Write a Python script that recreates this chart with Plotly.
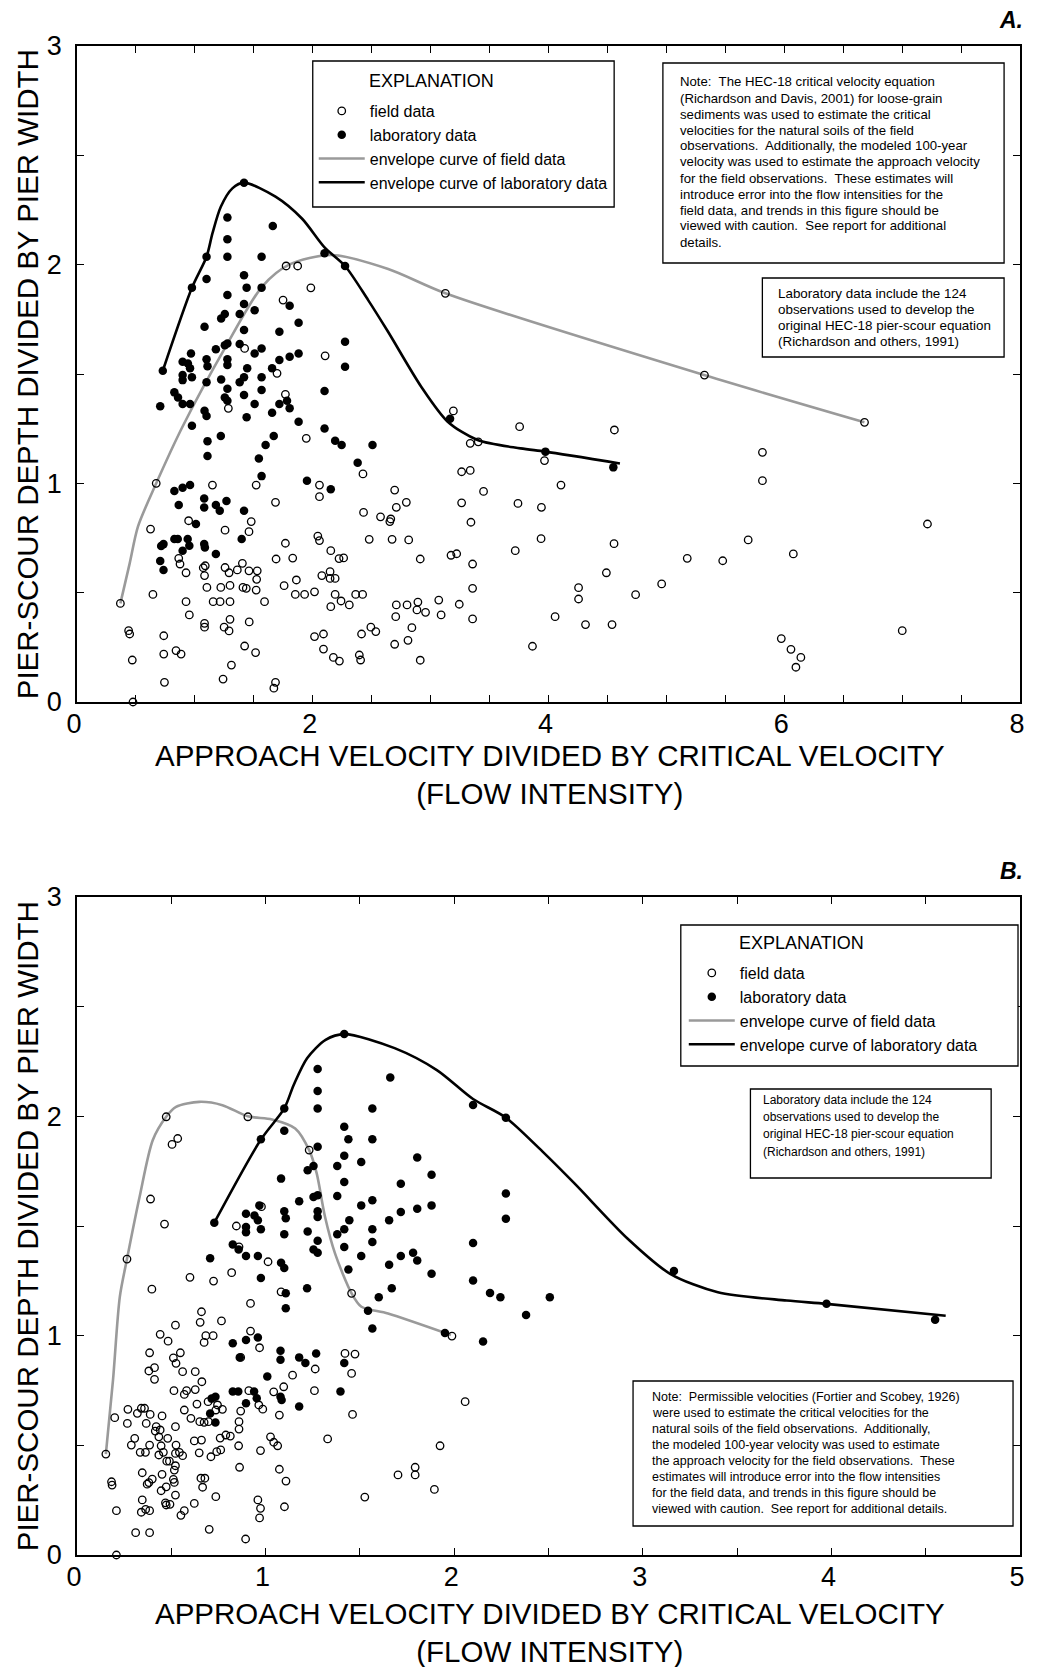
import plotly.graph_objects as go

# ---------------- data ----------------
# Laboratory data (same in both panels)
lab_x = [1.417,1.276,1.661,1.276,1.099,1.276,1.566,2.10,2.274,1.099,0.975,1.417,1.439,1.566,1.276,1.417,1.507,1.804,1.254,1.223,
         1.380,1.880,1.082,1.417,1.717,2.274,1.276,1.254,1.178,1.380,1.566,1.507,1.880,1.804,1.717,0.967,0.896,0.941,1.099,1.276,
         1.276,1.107,0.959,0.728,0.896,0.975,0.896,1.444,1.655,1.566,1.223,1.099,1.417,1.380,1.276,1.566,2.10,0.826,0.857,0.896,
         0.959,0.706,1.254,1.276,1.417,1.507,1.717,1.782,1.804,1.655,1.082,1.099,1.439,1.880,0.975,2.10,2.274,
         1.220,1.107,1.107,1.669,1.600,1.543,1.566,2.190,2.245,2.507,2.381,1.951,2.153,0.826,0.896,0.959,0.863,1.079,1.079,1.178,
         1.211,1.268,1.417,1.009,0.826,0.855,0.939,0.714,0.734,0.896,0.953,1.079,1.085,1.178,1.397,0.706,0.734,
         3.165,3.974,4.55]
lab_y = [2.375,2.216,2.177,2.116,2.036,2.036,2.036,2.052,1.994,1.934,1.895,1.952,1.895,1.895,1.861,1.820,1.792,1.812,1.774,1.754,
         1.774,1.734,1.716,1.701,1.693,1.648,1.640,1.632,1.613,1.637,1.617,1.594,1.594,1.579,1.564,1.594,1.556,1.548,1.567,1.567,
         1.541,1.535,1.526,1.515,1.495,1.485,1.472,1.526,1.526,1.485,1.475,1.462,1.485,1.462,1.433,1.427,1.422,1.416,1.393,1.363,
         1.363,1.353,1.393,1.378,1.404,1.363,1.363,1.378,1.343,1.323,1.332,1.308,1.302,1.282,1.263,1.251,1.533,
         1.216,1.193,1.125,1.216,1.175,1.114,1.033,1.195,1.175,1.175,1.094,1.012,0.973,0.965,0.980,0.992,0.901,0.931,0.890,0.901,
         0.875,0.919,0.875,0.814,0.745,0.745,0.745,0.713,0.722,0.692,0.715,0.722,0.707,0.677,0.745,0.645,0.604,
         1.295,1.145,1.073]

# Field data, panel A (HEC-18 critical velocity)
fieldA_x = [1.774,1.872,1.984,1.748,1.422,2.105,1.697,1.768,1.284,
            1.945,2.426,0.672,1.149,1.520,2.057,2.057,1.684,2.695,2.709,2.431,2.575,2.662,2.654,0.947,1.478,0.624,1.256,1.459,2.043,
            2.057,2.479,2.673,1.768,2.153,1.830,1.689,2.223,2.262,0.863,0.874,0.925,1.071,1.088,1.082,1.256,1.290,1.360,1.403,1.459,
            1.529,1.524,1.102,1.220,1.298,1.408,1.436,1.520,2.147,2.077,2.147,2.190,1.861,1.757,1.852,1.931,2.015,2.190,2.364,2.423,
            2.240,2.310,2.153,2.709,2.704,2.695,0.644,0.925,1.155,1.214,1.298,1.591,0.953,0.368,0.438,0.447,0.736,1.082,1.082,1.248,
            1.290,1.298,1.461,2.015,2.091,2.091,2.175,2.226,2.414,2.493,2.535,2.395,2.406,0.840,0.883,0.736,0.469,1.422,1.515,1.310,
            0.742,1.239,1.684,1.670,0.475,
            3.125,5.323,3.193,3.755,4.559,
            3.336,3.404,3.966,3.263,3.336,4.106,3.449,2.794,3.263,3.741,3.940,3.342,2.814,3.937,4.556,3.718,3.173,3.221,2.912,3.356,
            4.491,4.960,4.255,4.255,4.739,3.356,3.069,3.243,2.892,2.800,2.884,2.957,3.089,3.356,4.056,4.314,4.539,2.841,2.808,3.864,
            2.912,
            6.681,5.815,5.815,7.215,5.694,5.177,5.478,6.077,5.975,6.057,6.141,6.099,7.001]
fieldA_y = [1.994,1.994,1.894,1.838,1.617,1.583,1.503,1.407,1.343,
            1.206,1.043,1.000,0.992,0.992,0.992,0.939,0.913,0.969,0.890,0.867,0.847,0.837,0.825,0.829,0.825,0.791,0.786,0.779,0.759,
            0.738,0.744,0.744,0.726,0.692,0.658,0.654,0.656,0.659,0.657,0.631,0.591,0.614,0.623,0.578,0.615,0.591,0.604,0.634,0.600,
            0.600,0.561,0.524,0.524,0.533,0.524,0.520,0.512,0.596,0.578,0.565,0.565,0.558,0.532,0.492,0.492,0.504,0.492,0.492,0.492,
            0.462,0.444,0.436,0.444,0.390,0.264,0.492,0.459,0.459,0.459,0.459,0.459,0.398,0.451,0.326,0.311,0.303,0.360,0.342,0.342,
            0.325,0.378,0.366,0.299,0.311,0.242,0.204,0.187,0.311,0.342,0.322,0.215,0.192,0.235,0.219,0.219,0.192,0.256,0.226,0.169,
            0.090,0.105,0.090,0.063,0.000,
            1.869,1.495,1.331,1.259,1.244,
            1.183,1.190,1.104,1.053,1.059,0.992,0.963,0.913,0.911,0.908,0.890,0.822,0.741,0.747,0.724,0.692,0.671,0.678,0.654,0.631,
            0.591,0.540,0.523,0.471,0.491,0.520,0.466,0.447,0.457,0.444,0.421,0.410,0.398,0.380,0.390,0.354,0.354,0.340,0.282,0.255,
            0.191,
            1.279,1.142,1.012,0.814,0.741,0.657,0.646,0.677,0.290,0.241,0.204,0.159,0.326]

# Field data, panel B (permissible velocities)
fieldB_x = [0.473,0.534,0.504,0.906,1.231,0.390,0.464,0.265,0.845,0.978,0.859,1.013,0.599,0.724,0.820,0.397,1.082,1.456,
            0.920,0.660,0.653,0.766,0.522,0.441,0.483,0.683,0.722,0.674,0.920,0.968,0.385,0.548,0.511,0.525,0.868,1.421,1.474,
            0.411,0.381,0.411,0.560,0.627,0.662,1.143,1.263,1.456,0.514,0.569,0.581,0.627,0.911,1.043,1.096,1.259,0.636,0.695,
            0.964,0.985,0.569,0.745,0.771,0.868,1.073,1.461,0.270,0.341,0.358,0.320,0.388,0.451,0.200,0.267,0.367,0.420,0.441,
            0.415,0.522,0.604,0.651,0.674,0.697,0.736,0.859,0.859,0.857,0.789,0.813,0.759,0.741,0.762,0.710,0.288,0.306,0.335,
            0.363,0.385,0.434,0.446,0.434,0.458,0.481,0.525,0.522,0.543,0.560,0.476,0.490,0.522,0.516,0.622,0.660,0.648,0.862,
            0.973,1.026,1.043,1.064,1.073,1.108,1.329,0.346,0.399,0.381,0.372,0.451,0.446,0.473,0.511,0.516,0.657,0.678,0.666,
            0.183,0.186,0.346,0.364,0.385,0.341,0.469,0.493,0.473,0.522,0.569,0.551,0.622,0.736,0.209,0.311,0.385,0.701,0.959,
            0.973,0.968,1.100,0.894,0.209,0.153,1.526,
            1.988,2.058,1.925,1.793,1.793,1.702,1.895]
fieldB_y = [1.998,1.899,1.872,1.998,1.846,1.623,1.509,1.349,1.500,1.588,1.405,1.337,1.266,1.249,1.287,1.212,1.200,1.193,
            1.147,1.109,1.061,1.067,1.048,1.006,0.975,1.000,1.000,0.969,1.021,0.945,0.922,0.922,0.899,0.874,0.901,0.919,0.916,
            0.854,0.839,0.801,0.836,0.836,0.790,0.820,0.848,0.828,0.749,0.732,0.749,0.754,0.749,0.744,0.767,0.749,0.688,0.699,
            0.684,0.665,0.661,0.684,0.664,0.656,0.638,0.641,0.664,0.669,0.669,0.646,0.641,0.634,0.626,0.600,0.600,0.585,0.570,
            0.565,0.585,0.623,0.608,0.605,0.608,0.661,0.608,0.574,0.498,0.547,0.542,0.533,0.471,0.479,0.448,0.501,0.532,0.468,
            0.468,0.501,0.539,0.498,0.456,0.468,0.532,0.501,0.463,0.468,0.453,0.428,0.428,0.407,0.387,0.520,0.524,0.466,0.400,
            0.476,0.539,0.514,0.498,0.391,0.337,0.529,0.375,0.346,0.330,0.323,0.368,0.293,0.311,0.345,0.331,0.350,0.350,0.309,
            0.334,0.319,0.251,0.208,0.202,0.195,0.238,0.231,0.228,0.273,0.202,0.181,0.235,0.266,0.202,0.102,0.102,0.117,0.251,
            0.213,0.169,0.220,0.073,0.000,0.460,0.264,
            0.998,0.699,0.498,0.400,0.365,0.365,0.299]

# Envelope curves
labenv_x = [0.728,0.975,1.099,1.149,1.220,1.318,1.417,1.684,1.908,2.100,2.274,2.470,2.639,2.920,3.145,3.398,3.763,3.974,4.606]
labenv_y = [1.515,1.894,2.036,2.143,2.265,2.349,2.375,2.311,2.211,2.079,1.994,1.838,1.693,1.442,1.282,1.198,1.160,1.145,1.091]

fieldenvA_x = [0.368,0.447,0.517,0.672,0.896,1.262,1.571,1.800,2.160,2.640,3.125,5.320,6.680]
fieldenvA_y = [0.451,0.634,0.802,1.000,1.260,1.625,1.900,2.000,2.044,1.980,1.869,1.495,1.279]

fieldenvB_x = [0.153,0.191,0.227,0.265,0.332,0.402,0.473,0.525,0.648,0.771,0.906,1.034,1.157,1.231,1.271,1.315,1.368,1.456,1.508,1.649,1.983]
fieldenvB_y = [0.460,0.798,1.177,1.349,1.633,1.892,1.998,2.043,2.066,2.051,2.000,1.986,1.945,1.846,1.740,1.542,1.375,1.193,1.132,1.101,1.003]

legend_labels = ["field data", "laboratory data", "envelope curve of field data", "envelope curve of laboratory data"]
legend_title = "EXPLANATION"
y_title = "PIER-SCOUR DEPTH DIVIDED BY PIER WIDTH"
x_title = "APPROACH VELOCITY DIVIDED BY CRITICAL VELOCITY<br>(FLOW INTENSITY)"

noteA_lines = [
    "Note:  The HEC-18 critical velocity equation",
    "(Richardson and Davis, 2001) for loose-grain",
    "sediments was used to estimate the critical",
    "velocities for the natural soils of the field",
    "observations.  Additionally, the modeled 100-year",
    "velocity was used to estimate the approach velocity",
    "for the field observations.  These estimates will",
    "introduce error into the flow intensities for the",
    "field data, and trends in this figure should be",
    "viewed with caution.  See report for additional",
    "details.",
]
lab_note_lines = [
    "Laboratory data include the 124",
    "observations used to develop the",
    "original HEC-18 pier-scour equation",
    "(Richardson and others, 1991)",
]
noteB_lines = [
    "Note:  Permissible velocities (Fortier and Scobey, 1926)",
    "were used to estimate the critical velocities for the",
    "natural soils of the field observations.  Additionally,",
    "the modeled 100-year velocity was used to estimate",
    "the approach velocity for the field observations.  These",
    "estimates will introduce error into the flow intensities",
    "for the field data, and trends in this figure should be",
    "viewed with caution.  See report for additional details.",
]

# ---------------- figure ----------------
OFF = 8                      # page body margin of the html page
W, H = 1039 - 2 * OFF, 1667 - OFF
PL, PR, PT, PB = 77, 1025, 46, 1555   # plotting rectangle, in screen px


def px(x):
    return (x - PL) / (PR - PL)


def py(y):
    return (PB - y) / (PB - PT)


SANS = "Liberation Sans, Arial, sans-serif"
GRAY = "#9a9a9a"

fig = go.Figure()


def add_panel(xa, ya, fx, fy, ex, ey, legend, tag):
    fig.add_trace(go.Scatter(x=ex, y=ey, mode="lines", line=dict(color=GRAY, width=2.6, shape="spline", smoothing=0.8),
                             name=legend_labels[2], legend=legend, legendrank=3, legendgroup=tag + "2",
                             xaxis=xa, yaxis=ya, cliponaxis=False, hoverinfo="skip"))
    fig.add_trace(go.Scatter(x=labenv_x, y=labenv_y, mode="lines", line=dict(color="black", width=2.6, shape="spline", smoothing=0.8),
                             name=legend_labels[3], legend=legend, legendrank=4, legendgroup=tag + "3",
                             xaxis=xa, yaxis=ya, cliponaxis=False, hoverinfo="skip"))
    fig.add_trace(go.Scatter(x=fx, y=fy, mode="markers",
                             marker=dict(symbol="circle-open", size=7.5, color="black", line=dict(width=1.3)),
                             name=legend_labels[0], legend=legend, legendrank=1, legendgroup=tag + "0",
                             xaxis=xa, yaxis=ya, cliponaxis=False))
    fig.add_trace(go.Scatter(x=lab_x, y=lab_y, mode="markers",
                             marker=dict(symbol="circle", size=8.5, color="black"),
                             name=legend_labels[1], legend=legend, legendrank=2, legendgroup=tag + "1",
                             xaxis=xa, yaxis=ya, cliponaxis=False))


add_panel("x", "y", fieldA_x, fieldA_y, fieldenvA_x, fieldenvA_y, "legend", "A")
add_panel("x2", "y2", fieldB_x, fieldB_y, fieldenvB_x, fieldenvB_y, "legend2", "B")

tickfont = dict(family=SANS, size=27, color="black")


def axis(rng, dtick, domain, anchor, standoff, shift):
    return dict(range=rng, dtick=dtick, tick0=0, domain=domain, anchor=anchor,
                showline=True, linecolor="black", linewidth=1.5, mirror="ticks",
                ticks="inside", ticklen=7, tickwidth=1.4, tickcolor="black",
                showgrid=False, zeroline=False, tickfont=tickfont,
                ticklabelstandoff=standoff, ticklabelshift=shift,
                minor=dict(dtick=0.5, tick0=0, ticks="inside", ticklen=7, tickwidth=1.4, tickcolor="black", showgrid=False),
                fixedrange=True)


domA = [py(702), py(46)]
domB = [0, py(897)]
legend_common = dict(xanchor="left", yanchor="top", borderwidth=0, bgcolor="rgba(0,0,0,0)",
                     font=dict(family=SANS, size=16, color="black"), tracegroupgap=1, itemwidth=46,
                     traceorder="normal")
fig.update_layout(
    width=W, height=H,
    margin=dict(l=PL - OFF, r=W - (PR - OFF), t=PT - OFF, b=H - (PB - OFF)),
    paper_bgcolor="white", plot_bgcolor="white",
    xaxis=axis([0, 8], 2, [0, 1], "y", -3, -3),
    yaxis=axis([0, 3], 1, domA, "x", 8, 0),
    xaxis2=axis([0, 5], 1, [0, 1], "y2", -3, -3),
    yaxis2=axis([0, 3], 1, domB, "x2", 8, 0),
    legend=dict(x=px(315), y=py(94), **legend_common),
    legend2=dict(x=px(687), y=py(956), **legend_common),
    showlegend=True,
)

box_line = dict(color="black", width=1.3)
# legend frames and titles
for (x0, y0, x1, y1), (tx, ty) in (((314, 61, 617, 207), (369, 81)), ((684, 925, 1023, 1066), (741, 943))):
    fig.add_shape(type="rect", xref="paper", yref="paper", x0=px(x0), x1=px(x1), y0=py(y1), y1=py(y0),
                  line=box_line, fillcolor="white", layer="above")
    fig.add_annotation(text=legend_title, xref="paper", yref="paper", x=px(tx), y=py(ty),
                       xanchor="left", yanchor="middle", showarrow=False,
                       font=dict(family=SANS, size=18, color="black"))


def text_box(x0, y0, x1, y1, lines, tx, ty0, dy, font):
    fig.add_shape(type="rect", xref="paper", yref="paper", x0=px(x0), x1=px(x1), y0=py(y1), y1=py(y0),
                  line=box_line, fillcolor="white", layer="above")
    for i, t in enumerate(lines):
        fig.add_annotation(text=t, xref="paper", yref="paper", x=px(tx), y=py(ty0 + dy * i),
                           xanchor="left", yanchor="middle", showarrow=False, font=font, align="left")


text_box(666, 63, 1009, 263, noteA_lines, 681, 82, 16, dict(family=SANS, size=13.2, color="black"))
text_box(766, 278, 1009, 357, lab_note_lines, 780, 293, 16, dict(family=SANS, size=13.4, color="black"))
text_box(754, 1089, 996, 1178, lab_note_lines, 765, 1100, 17.2, dict(family=SANS, size=12, color="black"))
text_box(636, 1381, 1018, 1526, noteB_lines, 653, 1397, 16, dict(family=SANS, size=12.5, color="black"))

title_font = dict(family=SANS, size=29.5, color="black")
for yc in (374, 1226):
    fig.add_annotation(text=y_title, xref="paper", yref="paper", x=px(27), y=py(yc), textangle=-90,
                       xanchor="center", yanchor="middle", showarrow=False, font=title_font)
for yc in (774, 1632):
    fig.add_annotation(text=x_title, xref="paper", yref="paper", x=px(553), y=py(yc),
                       xanchor="center", yanchor="middle", showarrow=False, font=title_font)

for lab, yc in (("A.", 20), ("B.", 871)):
    fig.add_annotation(text="<b><i>" + lab + "</i></b>", xref="paper", yref="paper", x=px(1030), y=py(yc),
                       xanchor="right", yanchor="middle", showarrow=False,
                       font=dict(family=SANS, size=23, color="black"))

fig.write_html("out.html")
